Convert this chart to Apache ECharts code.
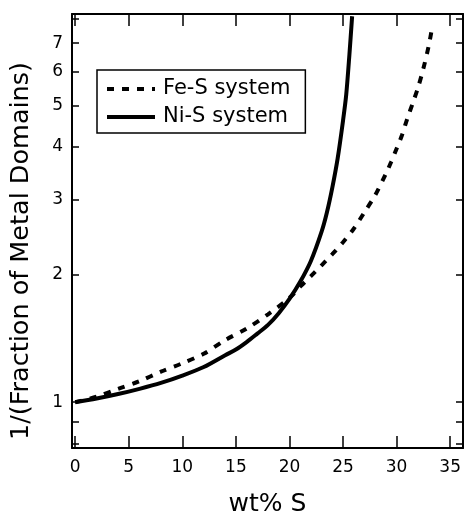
<!DOCTYPE html>
<html>
<head>
<meta charset="utf-8">
<script src="https://cdn.jsdelivr.net/npm/echarts@6/dist/echarts.min.js"></script>
<style>
  html, body { margin: 0; padding: 0; background: #fff; }
  #chart { width: 465px; height: 514px; }
</style>
</head>
<body>
<div id="chart"></div>
<script>
// wt% S vs 1/(fraction of metal domains)
const feX = [0, 2, 4, 6, 8, 10, 12, 14, 16, 18, 20, 21, 22, 23, 24, 25, 26, 27, 28, 29, 29.5, 30, 30.5, 31, 31.5, 32, 32.5, 33, 33.35];
const feY = [1.00, 1.03, 1.075, 1.12, 1.18, 1.235, 1.30, 1.40, 1.49, 1.61, 1.76, 1.87, 1.98, 2.10, 2.23, 2.38, 2.56, 2.80, 3.07, 3.45, 3.68, 3.95, 4.25, 4.65, 5.05, 5.5, 6.1, 6.9, 7.7];
const niX = [0, 2, 4, 6, 8, 10, 12, 14, 15, 16, 17, 18, 19, 20, 21, 22, 23, 23.5, 24, 24.5, 25, 25.3, 25.6, 25.85];
const niY = [1.00, 1.02, 1.045, 1.075, 1.11, 1.155, 1.21, 1.29, 1.33, 1.385, 1.45, 1.52, 1.62, 1.75, 1.92, 2.15, 2.52, 2.80, 3.2, 3.75, 4.6, 5.3, 6.6, 8.1];

const xTicks = [0, 5, 10, 15, 20, 25, 30, 35];
const yLabels = [1, 2, 3, 4, 5, 6, 7];
const yTicks = [0.8, 0.9, 1, 2, 3, 4, 5, 6, 7, 8];

const FONT = 'DejaVu Sans';
const pairs = (xs, ys) => xs.map((x, i) => [x, ys[i]]);

const chart = echarts.init(document.getElementById('chart'));

const baseX = (pos, labels) => ({
  type: 'value',
  position: pos,
  min: -0.3,
  max: 36.2,
  axisLine: {show: true, onZero: false, lineStyle: {color: '#000', width: 2}},
  axisTick: {show: true, inside: true, length: 12, customValues: xTicks, lineStyle: {color: '#000', width: 1.5}},
  axisLabel: {show: labels, customValues: xTicks, color: '#000', fontSize: 17, fontFamily: FONT, margin: 11},
  splitLine: {show: false}
});

const baseY = (pos, labels) => ({
  type: 'log',
  logBase: 10,
  position: pos,
  min: 0.78,
  max: 8.2,
  axisLine: {show: true, onZero: false, lineStyle: {color: '#000', width: 2}},
  axisTick: {show: true, inside: true, length: 7, customValues: yTicks, lineStyle: {color: '#000', width: 1.5}},
  axisLabel: {show: labels, customValues: yLabels, color: '#000', fontSize: 17, fontFamily: FONT, margin: 9},
  splitLine: {show: false},
  minorTick: {show: false}
});

const xBottom = baseX('bottom', true);
xBottom.name = 'wt% S';
xBottom.nameLocation = 'middle';
xBottom.nameGap = 44;
xBottom.nameTextStyle = {color: '#000', fontSize: 25, fontFamily: FONT};

const yLeft = baseY('left', true);
yLeft.name = '1/(Fraction of Metal Domains)';
yLeft.nameLocation = 'middle';
yLeft.nameGap = 38;
yLeft.nameRotate = 90;
yLeft.nameTextStyle = {color: '#000', fontSize: 25.5, fontFamily: FONT, padding: [0, 40, 0, 0]};

chart.setOption({
  animation: false,
  backgroundColor: '#fff',
  grid: {left: 72, right: 2, top: 14, bottom: 66, containLabel: false, outerBoundsMode: 'none'},
  legend: {
    data: ['Fe-S system', 'Ni-S system'],
    orient: 'vertical',
    left: 97,
    top: 70,
    itemWidth: 48,
    itemHeight: 14,
    itemGap: 4,
    padding: [7, 15, 4, 8],
    borderColor: '#000',
    borderWidth: 1.5,
    borderRadius: 0,
    itemStyle: {opacity: 0},
    lineStyle: {width: 4},
    textStyle: {color: '#000', fontSize: 21, fontFamily: FONT, lineHeight: 24, padding: [0, 0, 0, 3]}
  },
  xAxis: [xBottom, baseX('top', false)],
  yAxis: [yLeft, baseY('right', false)],
  series: [
    {
      name: 'Fe-S system',
      type: 'line',
      data: pairs(feX, feY),
      symbol: 'none',
      smooth: 0.3,
      lineStyle: {color: '#000', width: 4, type: [7, 8]},
      itemStyle: {color: '#000'}
    },
    {
      name: 'Ni-S system',
      type: 'line',
      data: pairs(niX, niY),
      symbol: 'none',
      smooth: 0.3,
      lineStyle: {color: '#000', width: 4},
      itemStyle: {color: '#000'}
    }
  ]
});
</script>
</body>
</html>
